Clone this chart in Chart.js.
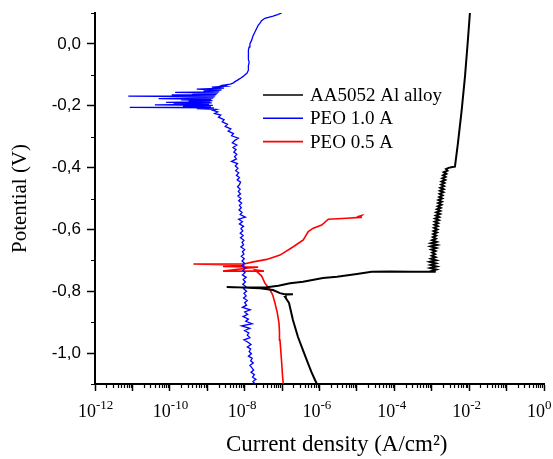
<!DOCTYPE html>
<html>
<head>
<meta charset="utf-8">
<script src="https://cdn.jsdelivr.net/npm/chart.js@4.4.1/dist/chart.umd.min.js"></script>
<style>
  html, body { margin: 0; padding: 0; background: #fff; }
  #tafel { display: block; }
</style>
</head>
<body>
<canvas id="tafel" width="553" height="459"></canvas>
<script>
// axis ticks
const xDecades = [-12, -11, -10, -9, -8, -7, -6, -5, -4, -3, -2, -1, 0];
const xLabelDecades = [-12, -10, -8, -6, -4, -2, 0];
const xMinorSteps = [2, 3, 4, 5, 6, 7, 8, 9];
const yMajor = [-1.0, -0.8, -0.6, -0.4, -0.2, 0.0];
const yMinor = [-1.1, -0.9, -0.7, -0.5, -0.3, -0.1, 0.1];

const seriesLabels = ["AA5052 Al alloy", "PEO 1.0 A", "PEO 0.5 A"];
const seriesColors = ["#000000", "#0000ff", "#ff0000"];

// [log10 current density (A/cm2), potential (V)]
const alloyPoints = [
  [-6.07, -1.100], [-6.12, -1.087], [-6.22, -1.060], [-6.34, -1.023], [-6.46, -0.985], [-6.575, -0.948],
  [-6.71, -0.893], [-6.815, -0.838], [-6.92, -0.819], [-6.90, -0.811], [-6.71, -0.810], [-6.96, -0.809],
  [-7.056, -0.806], [-7.243, -0.796],
  [-7.59, -0.790], [-8.10, -0.788], [-8.48, -0.786], [-8.30, -0.787], [-7.80, -0.788], [-7.41, -0.787],
  [-7.10, -0.782], [-6.79, -0.774], [-6.44, -0.769], [-5.907, -0.757], [-5.533, -0.753], [-5.0, -0.744],
  [-4.606, -0.737], [-4.117, -0.736], [-3.5, -0.737], [-2.895, -0.737],
  [-3.02, -0.735], [-2.88, -0.730], [-3.04, -0.725], [-2.87, -0.720], [-3.03, -0.715], [-2.89, -0.710],
  [-3.05, -0.705], [-2.88, -0.700], [-3.02, -0.695], [-2.90, -0.690], [-3.00, -0.685], [-2.91, -0.680],
  [-2.99, -0.675], [-2.90, -0.670], [-3.01, -0.665], [-2.88, -0.660], [-3.03, -0.655], [-2.86, -0.650],
  [-3.02, -0.645], [-2.87, -0.640], [-2.99, -0.635], [-2.89, -0.630], [-2.97, -0.625], [-2.88, -0.620],
  [-2.96, -0.615], [-2.86, -0.610], [-2.95, -0.605], [-2.85, -0.600], [-2.94, -0.595], [-2.84, -0.590],
  [-2.93, -0.585], [-2.83, -0.580], [-2.92, -0.575], [-2.81, -0.570], [-2.91, -0.565], [-2.80, -0.560],
  [-2.89, -0.555], [-2.78, -0.550], [-2.88, -0.545], [-2.77, -0.540], [-2.86, -0.535], [-2.76, -0.530],
  [-2.84, -0.525], [-2.74, -0.520], [-2.83, -0.515], [-2.73, -0.510], [-2.82, -0.505], [-2.72, -0.500],
  [-2.80, -0.495], [-2.71, -0.490], [-2.79, -0.485], [-2.69, -0.480], [-2.78, -0.475], [-2.68, -0.470],
  [-2.77, -0.465], [-2.67, -0.460], [-2.75, -0.455], [-2.66, -0.450], [-2.74, -0.445], [-2.64, -0.440],
  [-2.72, -0.435], [-2.63, -0.430], [-2.70, -0.425], [-2.61, -0.420], [-2.68, -0.415], [-2.58, -0.410],
  [-2.62, -0.405], [-2.55, -0.401], [-2.45, -0.398], [-2.38, -0.397], [-2.30, -0.321], [-2.20, -0.214],
  [-2.112, -0.106], [-2.04, 0.003], [-1.98, 0.100]
];

const peo10Points = [
  [-7.72, -1.100], [-7.78, -1.092], [-7.70, -1.085], [-7.79, -1.078], [-7.74, -1.070], [-7.83, -1.062],
  [-7.76, -1.055], [-7.81, -1.047], [-7.86, -1.040], [-7.77, -1.032], [-7.84, -1.025], [-7.80, -1.017],
  [-7.90, -1.010], [-7.82, -1.002], [-7.88, -0.995], [-7.84, -0.987], [-7.93, -0.980], [-7.83, -0.972],
  [-7.91, -0.965], [-8.02, -0.957], [-7.86, -0.950], [-7.93, -0.942], [-7.89, -0.935], [-8.00, -0.927],
  [-7.86, -0.920], [-8.08, -0.912], [-7.80, -0.905], [-7.97, -0.897], [-7.90, -0.890], [-8.04, -0.882],
  [-7.92, -0.875], [-8.00, -0.867], [-7.85, -0.860], [-8.06, -0.852], [-7.95, -0.845], [-8.00, -0.837],
  [-7.93, -0.830], [-8.03, -0.822], [-7.96, -0.815], [-8.02, -0.807], [-7.95, -0.800], [-8.03, -0.792],
  [-7.97, -0.785], [-8.05, -0.777], [-7.98, -0.770], [-8.04, -0.762], [-7.96, -0.755], [-8.06, -0.747],
  [-7.99, -0.740], [-8.05, -0.732], [-7.97, -0.725], [-8.08, -0.717], [-8.00, -0.710], [-8.07, -0.702],
  [-8.01, -0.695], [-8.09, -0.687], [-8.02, -0.680], [-8.06, -0.672], [-8.00, -0.665], [-8.10, -0.657],
  [-8.03, -0.650], [-8.07, -0.642], [-8.02, -0.635], [-8.11, -0.627], [-8.04, -0.620], [-8.12, -0.612],
  [-8.05, -0.605], [-8.10, -0.597], [-8.03, -0.590], [-8.14, -0.582], [-8.06, -0.575], [-8.16, -0.567],
  [-7.98, -0.560], [-8.12, -0.552], [-8.07, -0.545], [-8.15, -0.537], [-8.09, -0.530], [-8.14, -0.522],
  [-8.08, -0.515], [-8.16, -0.507], [-8.10, -0.500], [-8.18, -0.492], [-8.11, -0.485], [-8.17, -0.477],
  [-8.12, -0.470], [-8.19, -0.462], [-8.14, -0.455], [-8.11, -0.447], [-8.20, -0.440], [-8.14, -0.432],
  [-8.22, -0.425], [-8.16, -0.417], [-8.24, -0.410], [-8.18, -0.402], [-8.25, -0.395], [-8.19, -0.387],
  [-8.35, -0.380], [-8.22, -0.372], [-8.27, -0.365], [-8.21, -0.357], [-8.29, -0.350], [-8.23, -0.342],
  [-8.31, -0.335], [-8.21, -0.327], [-8.33, -0.320], [-8.26, -0.312], [-8.17, -0.305], [-8.35, -0.297],
  [-8.30, -0.290], [-8.44, -0.282], [-8.37, -0.275], [-8.52, -0.267], [-8.46, -0.260], [-8.60, -0.252],
  [-8.55, -0.245], [-8.70, -0.237], [-8.64, -0.230], [-8.80, -0.225], [-8.72, -0.220], [-8.85, -0.215],
  [-8.76, -0.212], [-9.28, -0.209], [-8.82, -0.207], [-11.07, -0.205], [-8.90, -0.203], [-9.65, -0.201],
  [-8.85, -0.199], [-10.40, -0.197], [-8.95, -0.195], [-9.90, -0.193], [-8.88, -0.191], [-10.10, -0.189],
  [-8.92, -0.187], [-9.50, -0.185], [-8.86, -0.183], [-9.70, -0.181], [-8.90, -0.179], [-10.30, -0.177],
  [-8.84, -0.175], [-9.30, -0.173], [-8.80, -0.171], [-11.11, -0.169], [-8.78, -0.167], [-9.95, -0.165],
  [-8.75, -0.163], [-9.40, -0.161], [-8.72, -0.159], [-9.86, -0.157], [-8.68, -0.155], [-9.10, -0.152],
  [-8.62, -0.149], [-9.28, -0.146], [-8.55, -0.143], [-8.88, -0.140], [-8.48, -0.137], [-8.60, -0.134],
  [-8.38, -0.130], [-8.30, -0.126], [-8.26, -0.122], [-8.20, -0.118], [-8.15, -0.114], [-8.10, -0.110],
  [-8.04, -0.105], [-7.99, -0.100], [-7.94, -0.095], [-7.92, -0.090], [-7.90, -0.085], [-7.89, -0.080],
  [-7.91, -0.070], [-7.88, -0.060], [-7.90, -0.050], [-7.89, -0.040], [-7.91, -0.030], [-7.90, -0.020],
  [-7.88, -0.010], [-7.86, 0.000], [-7.81, 0.013], [-7.78, 0.025], [-7.72, 0.040], [-7.68, 0.050],
  [-7.64, 0.060], [-7.59, 0.067], [-7.55, 0.075], [-7.46, 0.083], [-7.24, 0.090], [-7.12, 0.095],
  [-7.01, 0.100]
];

const peo05Points = [
  [-6.968, -1.100], [-6.99, -1.070], [-7.01, -1.033], [-7.03, -1.000], [-7.056, -0.958], [-7.07, -0.930],
  [-7.083, -0.903], [-7.128, -0.870], [-7.19, -0.838], [-7.25, -0.812], [-7.32, -0.796], [-7.40, -0.783],
  [-7.457, -0.774], [-7.545, -0.751], [-7.724, -0.731], [-7.484, -0.735], [-8.58, -0.735], [-7.90, -0.725],
  [-7.64, -0.722], [-8.58, -0.720], [-8.00, -0.716], [-9.37, -0.712], [-7.99, -0.711], [-7.77, -0.705],
  [-7.41, -0.697], [-7.056, -0.683], [-6.70, -0.656], [-6.434, -0.634], [-6.30, -0.607], [-6.166, -0.596],
  [-5.94, -0.586], [-5.765, -0.567], [-5.274, -0.564], [-4.92, -0.561], [-4.87, -0.555], [-4.95, -0.558],
  [-4.87, -0.562]
];

function toXY(points) {
  return points.map(([logI, volts]) => ({ x: Math.pow(10, logI), y: volts }));
}

// minor ticks and the 10^n labels, placed through the chart's own scales
const axisExtras = {
  id: "axisExtras",
  afterDraw(chart) {
    const { ctx, chartArea, scales } = chart;
    ctx.save();
    ctx.strokeStyle = "#000";
    ctx.lineWidth = 1.2;
    ctx.beginPath();
    xDecades.slice(0, -1).forEach((decade) => {
      xMinorSteps.forEach((step) => {
        const px = Math.round(scales.x.getPixelForValue(step * Math.pow(10, decade))) + 0.5;
        ctx.moveTo(px, chartArea.bottom);
        ctx.lineTo(px, chartArea.bottom + 4);
      });
    });
    yMinor.forEach((value) => {
      const py = Math.round(scales.y.getPixelForValue(value)) + 0.5;
      ctx.moveTo(chartArea.left - 4, py);
      ctx.lineTo(chartArea.left, py);
    });
    ctx.stroke();

    ctx.fillStyle = "#000";
    ctx.textBaseline = "alphabetic";
    xLabelDecades.forEach((decade) => {
      const px = scales.x.getPixelForValue(Math.pow(10, decade));
      ctx.font = '18px "Liberation Serif"';
      ctx.textAlign = "right";
      ctx.fillText("10", px + 1, chartArea.bottom + 33);
      ctx.font = '13px "Liberation Serif"';
      ctx.textAlign = "left";
      ctx.fillText(String(decade), px + 1, chartArea.bottom + 25);
    });
    ctx.restore();
  }
};

const insideLegend = {
  id: "insideLegend",
  afterDraw(chart) {
    const { ctx, chartArea } = chart;
    const x = chartArea.left + 168;
    ctx.save();
    ctx.font = '19px "Liberation Serif"';
    ctx.textBaseline = "middle";
    chart.data.datasets.forEach((dataset, index) => {
      const y = chartArea.top + 82 + index * 23.3;
      ctx.strokeStyle = dataset.borderColor;
      ctx.lineWidth = 1.6;
      ctx.beginPath();
      ctx.moveTo(x, y);
      ctx.lineTo(x + 40, y);
      ctx.stroke();
      ctx.fillStyle = "#000";
      ctx.fillText(dataset.label, x + 47, y + 1);
    });
    ctx.restore();
  }
};

new Chart(document.getElementById("tafel"), {
  type: "scatter",
  data: {
    datasets: [
      { label: seriesLabels[0], data: toXY(alloyPoints), borderColor: seriesColors[0], borderWidth: 2 },
      { label: seriesLabels[1], data: toXY(peo10Points), borderColor: seriesColors[1], borderWidth: 1.3 },
      { label: seriesLabels[2], data: toXY(peo05Points), borderColor: seriesColors[2], borderWidth: 1.6 }
    ].map((dataset) => ({ ...dataset, showLine: true, pointRadius: 0, tension: 0, backgroundColor: dataset.borderColor }))
  },
  options: {
    responsive: false,
    animation: false,
    layout: { padding: { top: 13, right: 9, left: 0, bottom: 0 } },
    plugins: { legend: { display: false }, tooltip: { enabled: false } },
    scales: {
      x: {
        type: "logarithmic",
        min: 1e-12,
        max: 1,
        afterBuildTicks: (scale) => {
          scale.ticks = xDecades.map((decade) => ({ value: Math.pow(10, decade) }));
        },
        afterFit: (scale) => {
          scale.height = 75;
          scale.paddingLeft = 0;
          scale.paddingRight = 0;
        },
        ticks: { autoSkip: false, maxRotation: 0, callback: () => "" },
        grid: { drawOnChartArea: false, tickLength: 7, tickWidth: 1.5, tickColor: "#000" },
        border: { color: "#000", width: 2 },
        title: {
          display: true,
          text: "\u00A0\u00A0\u00A0\u00A0\u00A0\u00A0Current density (A/cm\u00B2)",
          color: "#000",
          font: { family: '"Liberation Serif"', size: 23 },
          padding: { top: 0, bottom: 0 }
        }
      },
      y: {
        min: -1.1,
        max: 0.1,
        afterBuildTicks: (scale) => {
          scale.ticks = yMajor.map((value) => ({ value }));
        },
        afterFit: (scale) => {
          scale.width = 95;
          scale.paddingTop = 0;
          scale.paddingBottom = 0;
        },
        ticks: {
          padding: 6,
          color: "#000",
          font: { family: '"Liberation Sans"', size: 17 },
          callback: (value) => value.toFixed(1).replace(".", ",")
        },
        grid: { drawOnChartArea: false, tickLength: 8, tickWidth: 1.5, tickColor: "#000" },
        border: { color: "#000", width: 2 },
        title: {
          display: true,
          text: "Potential (V)",
          color: "#000",
          font: { family: '"Liberation Serif"', size: 21 },
          padding: { top: 8, bottom: 0 }
        }
      }
    }
  },
  plugins: [axisExtras, insideLegend]
});
</script>
</body>
</html>
